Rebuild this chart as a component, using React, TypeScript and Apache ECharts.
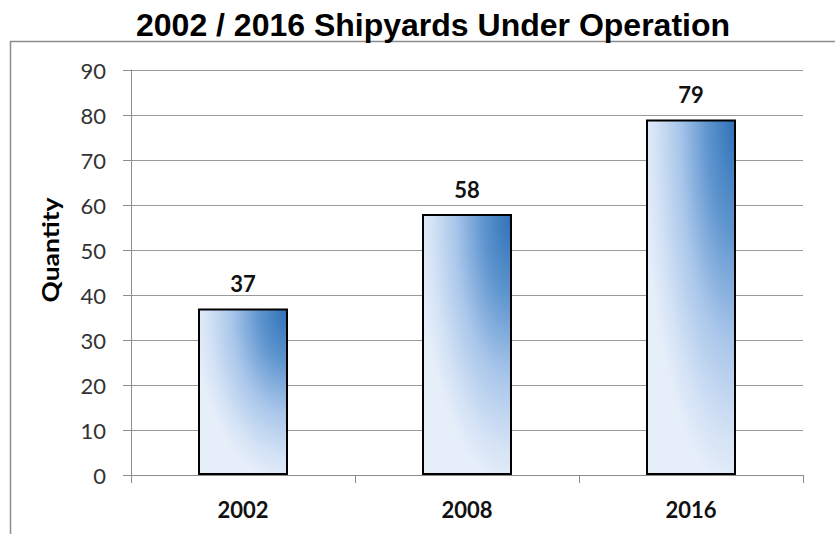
import React, { useEffect, useRef } from "react";
import * as echarts from "echarts";

const categories = ["2002", "2008", "2016"];
const quantities = [37, 58, 79];
const yTicks = { min: 0, max: 90, interval: 10 };
const titleText = "2002 / 2016 Shipyards Under Operation";
const yAxisTitle = "Quantity";

export default function App() {
  const ref = useRef<HTMLDivElement>(null);
  useEffect(() => {
    if (!ref.current) return;
    const chart = echarts.init(ref.current, undefined, { renderer: "svg" });
    const barFill = new echarts.graphic.RadialGradient(1, 0, 1.05, [
      { offset: 0, color: "#2f71b6" },
      { offset: 0.3, color: "#5f95cf" },
      { offset: 0.6, color: "#a9c6ea" },
      { offset: 0.85, color: "#d3e2f5" },
      { offset: 1, color: "#e6eefa" },
    ]);
    chart.setOption({
      animation: false,
      backgroundColor: "#ffffff",
      title: {
        text: titleText,
        left: 428,
        textAlign: "center",
        top: 4,
        textStyle: {
          fontFamily: "Liberation Sans",
          fontWeight: "bold",
          fontSize: 32,
          color: "#000",
        },
      },
      graphic: [
        {
          type: "rect",
          shape: { x: 10.5, y: 41.5, width: 900, height: 600 },
          style: { fill: "none", stroke: "#8c8c8c", lineWidth: 1.5 },
          silent: true,
        },
        {
          type: "text",
          x: 50,
          y: 250,
          rotation: Math.PI / 2,
          scaleX: 1.2,
          style: {
            text: yAxisTitle,
            fontFamily: "Lato",
            fontWeight: "bold",
            fontSize: 22,
            fill: "#000",
            align: "center",
            verticalAlign: "middle",
          },
          silent: true,
        },
      ],
      grid: { left: 131, right: 32, top: 70, bottom: 59 },
      xAxis: {
        type: "category",
        data: categories,
        axisLine: { show: true, lineStyle: { color: "#8c8c8c", width: 1 } },
        axisTick: { show: true, alignWithLabel: false, length: 8, lineStyle: { color: "#8c8c8c" } },
        axisLabel: {
          margin: 23,
          fontFamily: "Lato",
          fontWeight: "bold",
          fontSize: 22,
          color: "#111",
        },
      },
      yAxis: {
        type: "value",
        min: yTicks.min,
        max: yTicks.max,
        interval: yTicks.interval,
        axisLine: { show: true, lineStyle: { color: "#8c8c8c", width: 1 } },
        axisTick: { show: true, length: 8, lineStyle: { color: "#8c8c8c" } },
        axisLabel: {
          margin: 25,
          fontFamily: "Lato",
          fontSize: 22,
          color: "#333",
        },
        splitLine: { show: true, lineStyle: { color: "#9a9a9a", width: 1 } },
      },
      series: [
        {
          type: "bar",
          data: quantities,
          barWidth: 90,
          itemStyle: {
            color: barFill,
            borderColor: "#000",
            borderWidth: 2,
          },
          label: {
            show: true,
            position: "top",
            distance: 14,
            fontFamily: "Lato",
            fontWeight: "bold",
            fontSize: 22,
            color: "#111",
          },
        },
      ],
    });
    return () => chart.dispose();
  }, []);
  return (
    <div
      ref={ref}
      style={{ position: "fixed", left: 0, top: 0, width: 835, height: 534 }}
    />
  );
}
